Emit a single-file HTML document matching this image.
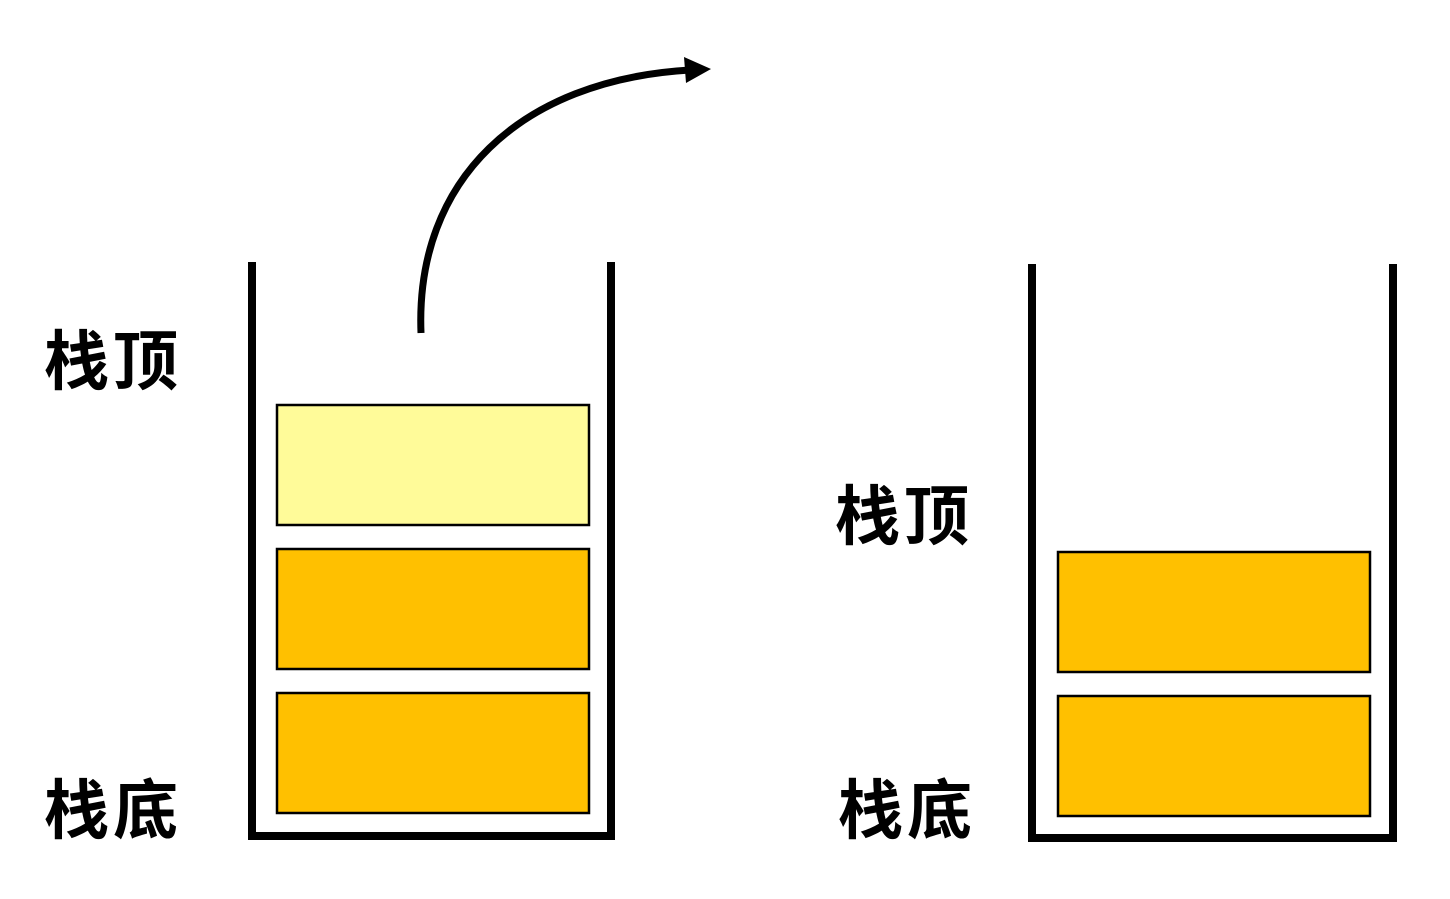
<!DOCTYPE html>
<html><head><meta charset="utf-8"><style>
html,body{margin:0;padding:0;background:#fff;}
svg{display:block}
text{font-family:"Liberation Sans","Noto Sans CJK SC",sans-serif;font-weight:bold;font-size:65px;letter-spacing:4px;fill:#000}
</style></head><body>
<svg width="1450" height="899" viewBox="0 0 1450 899" xmlns="http://www.w3.org/2000/svg">
<g fill="none" stroke="#000" stroke-width="8">
<polyline points="252,262 252,836 611,836 611,262"/>
<polyline points="1032,264 1032,838 1393,838 1393,264"/>
<path d="M421,333 C415,180 520,80 690,70" stroke-width="7"/>
</g>
<polygon points="684,57 711,69 686,83" fill="#000"/>
<g stroke="#000" stroke-width="2.5">
<rect x="277" y="405" width="312" height="120" fill="#FFFB99"/>
<rect x="277" y="549" width="312" height="120" fill="#FFC000"/>
<rect x="277" y="693" width="312" height="120" fill="#FFC000"/>
<rect x="1058" y="552" width="312" height="120" fill="#FFC000"/>
<rect x="1058" y="696" width="312" height="120" fill="#FFC000"/>
</g>
<text x="44" y="384">栈顶</text>
<text x="44" y="833">栈底</text>
<text x="835" y="539">栈顶</text>
<text x="838" y="833">栈底</text>
</svg>
</body></html>
